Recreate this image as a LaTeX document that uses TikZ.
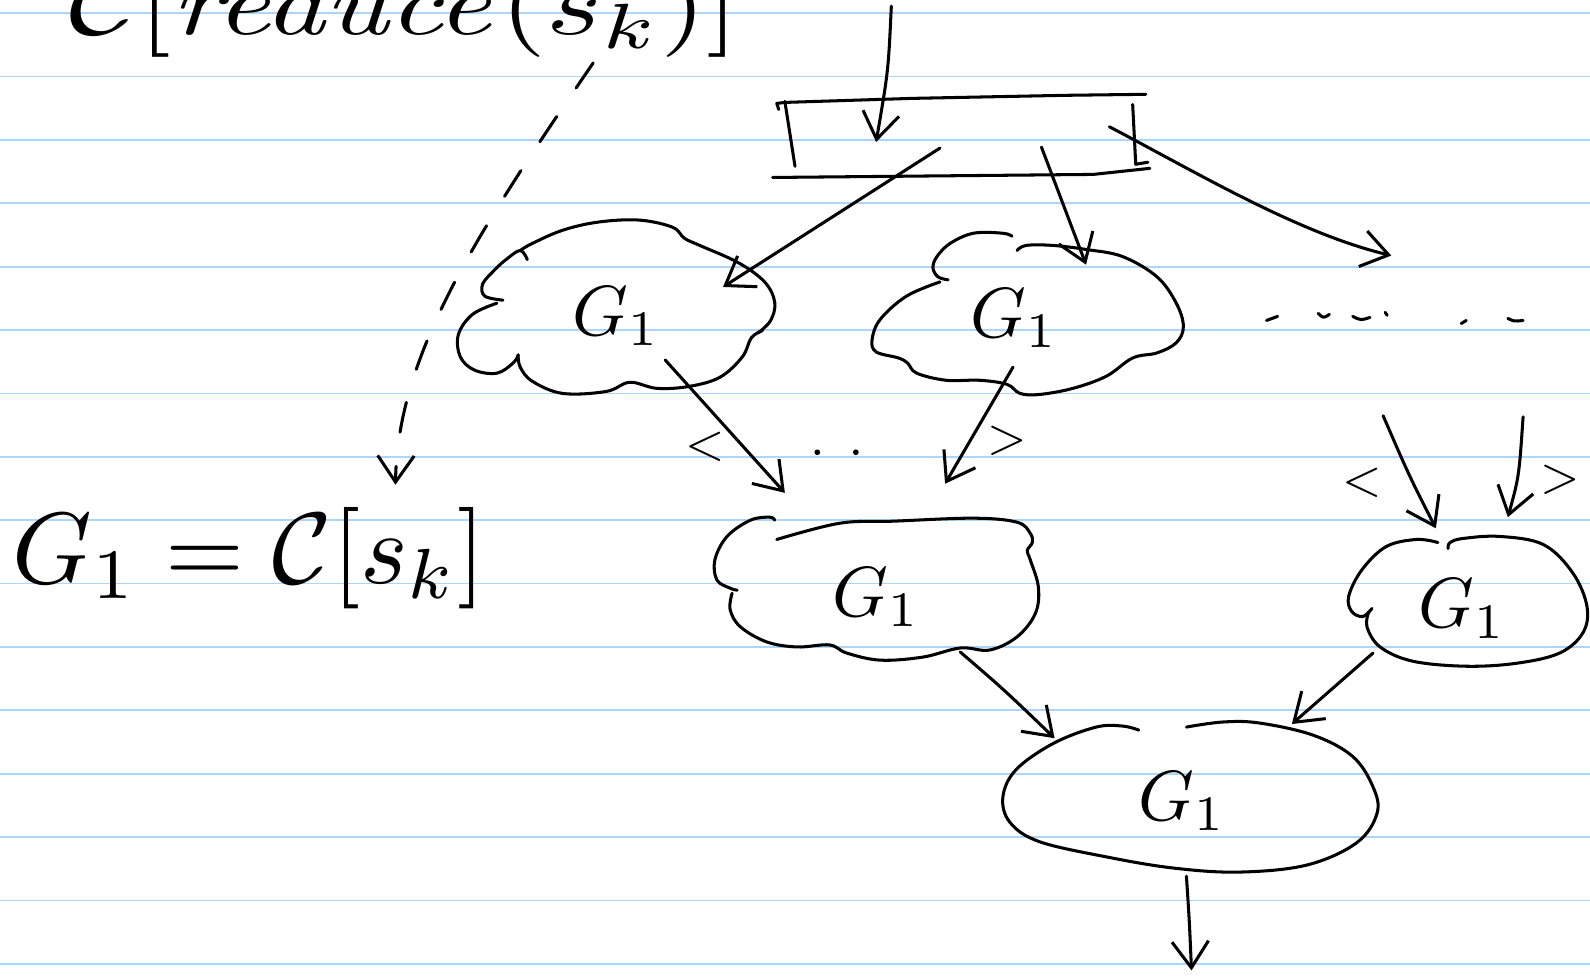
\documentclass[tikz,border=0pt]{standalone}
\usepackage{graphicx}
\usetikzlibrary{arrows.meta}
\definecolor{ruling}{RGB}{172,214,247}
\begin{document}
\begin{tikzpicture}[x=1pt,y=-1pt,
  pen/.style={line width=3pt, line cap=round, line join=round, black},
  arr/.style={pen, -{Straight Barb[length=26pt,width=36pt]}},
  dasharr/.style={arr, dash pattern=on 30pt off 34pt},
  rule/.style={ruling, line width=1.8pt},
  glabel/.style={inner sep=0pt},
  angle/.style={inner sep=0pt}]
\useasboundingbox (0,0) rectangle (1568,962);
\clip (0,0) rectangle (1568,962);
\fill[white] (0,0) rectangle (1568,962);

% ruled paper
\foreach \k in {0,...,15}
  \draw[rule] (0,{13+62.5*\k}) -- (1568,{13+62.5*\k});

% heading, cut at the top edge
\node[anchor=base west, inner sep=0pt] (head) at (68,34)
  {\scalebox{11.7}[9]{$\mathcal{C}[\mathit{reduce}(s_k)]$}};

% definition on the left
\node[anchor=base west, inner sep=0pt] (defn) at (12,575)
  {\scalebox{10}{$G_1 = \mathcal{C}[s_k]$}};

% top box
\draw[pen] (768,108) -- (766,102) -- (774,101) -- (900,97) -- (1050,94) -- (1130,93);
\draw[pen] (774,100) -- (784,164);
\draw[pen] (1117,103) -- (1120,162) -- (1132,160);
\draw[pen] (762,175) -- (1078,172) -- (1134,166);
\coordinate (boxIn) at (864,140);
\coordinate (boxA) at (927,146);
\coordinate (boxB) at (1027,145);
\coordinate (boxR) at (1094,125);

% cloud A
\draw[pen] plot[smooth,tension=.6] coordinates {(520,256) (513,247) (499,256) (488,266) (476,280) (478,292) (496,296)};
\draw[pen] plot[smooth,tension=.6] coordinates {(490,299) (466,310) (452,330) (454,352) (468,365) (490,368) (506,358) (511,350)};
\draw[pen] plot[smooth,tension=.6] coordinates {(511,350) (513,362) (525,376) (555,388) (598,386) (621,377) (648,383) (680,381) (710,372) (732,352) (741,333) (752,326)};
\draw[pen] plot[smooth,tension=.6] coordinates {(748,328) (760,316) (764,298) (754,278) (728,259) (690,242) (675,235) (663,224) (630,217) (590,219) (555,227) (525,240) (513,247)};
\node[glabel] (gA) at (608,312) {\scalebox{7}{$G_1$}};

% cloud B
\draw[pen] plot[smooth,tension=.6] coordinates {(998,233) (989,230) (960,230) (937,240) (924,253) (920,264) (925,273) (935,276)};
\draw[pen] plot[smooth,tension=.6] coordinates {(927,278) (894,292) (868,315) (860,335) (864,347) (886,353) (895,358) (904,368) (933,375) (966,375) (993,379) (1006,388) (1025,389) (1058,383) (1091,371) (1117,353) (1141,348) (1160,338) (1167,322) (1160,299) (1141,273) (1107,253) (1071,246) (1038,242) (1012,242) (1003,247)};
\node[glabel] (gB) at (1000,314) {\scalebox{7}{$G_1$}};

% cloud C
\draw[pen] plot[smooth,tension=.6] coordinates {(764,513) (759,510) (740,513) (717,529) (705,552) (707,572) (720,580) (727,582)};
\draw[pen] plot[smooth,tension=.6] coordinates {(722,585) (720,601) (730,618) (756,633) (786,638) (818,636) (835,644) (868,651) (910,648) (947,639) (976,641) (1003,628) (1021,605) (1024,579) (1016,552) (1013,543) (1018,535) (1016,526) (1003,515) (960,511) (880,514) (828,516) (766,532)};
\node[glabel] (gC) at (864,589) {\scalebox{7}{$G_1$}};

% cloud D
\draw[pen] plot[smooth,tension=.6] coordinates {(1418,535) (1397,532) (1367,539) (1343,562) (1330,588) (1333,603) (1344,608) (1353,600)};
\draw[pen] plot[smooth,tension=.6] coordinates {(1350,603) (1348,618) (1361,638) (1393,652) (1446,657) (1496,654) (1538,644) (1561,624) (1565,598) (1551,565) (1522,537) (1479,529) (1443,531) (1430,535) (1428,541)};
\node[glabel] (gD) at (1442,600) {\scalebox{7}{$G_1$}};

% cloud E
\draw[pen] plot[smooth,tension=.6] coordinates {(1123,720) (1107,716) (1081,717) (1039,733) (1002,759) (989,786) (996,811) (1025,830) (1091,845) (1157,856) (1222,860) (1289,853) (1338,831) (1358,802) (1354,776) (1334,746) (1295,725) (1242,713) (1206,712) (1170,717)};
\node[glabel] (gE) at (1166,790) {\scalebox{7}{$G_1$}};

% connector end points
\coordinate (inTop) at (879,6);
\coordinate (aIn) at (713,283);
\coordinate (bIn) at (1071,261);
\coordinate (rIn) at (1372,252);
\coordinate (aOut) at (656,355);
\coordinate (bOut) at (999,362);
\coordinate (cInL) at (774,486);
\coordinate (cInR) at (932,477);
\coordinate (dSrcL) at (1364,410);
\coordinate (dSrcR) at (1502,411);
\coordinate (dInL) at (1416,521);
\coordinate (dInR) at (1487,510);
\coordinate (cOut) at (947,643);
\coordinate (dOut) at (1354,644);
\coordinate (eInL) at (1040,728);
\coordinate (eInR) at (1274,714);
\coordinate (eOut) at (1170,864);
\coordinate (down) at (1175,957);
\coordinate (headOut) at (585,62);
\coordinate (defnIn) at (390,478);

% connectors
\draw[arr] (inTop) .. controls (876,70) .. (boxIn);
\draw[arr] (boxA) -- (aIn);
\draw[arr] (boxB) -- (bIn);
\draw[arr] (boxR) .. controls (1180,170) and (1280,230) .. (rIn);
\draw[arr] (aOut) -- (cInL);
\draw[arr] (bOut) -- (cInR);
\draw[arr] (dSrcL) .. controls (1390,470) .. (dInL);
\draw[arr] (dSrcR) .. controls (1498,470) .. (dInR);
\draw[arr] (cOut) .. controls (990,680) .. (eInL);
\draw[arr] (dOut) -- (eInR);
\draw[arr] (eOut) .. controls (1173,910) .. (down);
\draw[dasharr] (headOut) .. controls (470,230) and (392,350) .. (defnIn);

% tuple brackets and elisions
\node[angle] (lt1) at (695,441) {\scalebox{5}{$<$}};
\node[angle] (gt1) at (993,435) {\scalebox{5}{$>$}};
\node[angle] (lt2) at (1343,476) {\scalebox{5}{$<$}};
\node[angle] (gt2) at (1539,473) {\scalebox{5}{$>$}};
\fill (806,446) circle (2.8pt);
\fill (844,446) circle (2.8pt);
\draw[pen] (1249,316) -- (1260,312);
\draw[pen] (1300,309) .. controls (1305,314) .. (1311,310);
\draw[pen] (1334,312) .. controls (1342,316) .. (1351,313);
\draw[pen] (1366,308) -- (1368,311);
\draw[pen] (1441,319) -- (1446,316);
\draw[pen] (1487,314) .. controls (1493,317) .. (1502,316);
\end{tikzpicture}
\end{document}
